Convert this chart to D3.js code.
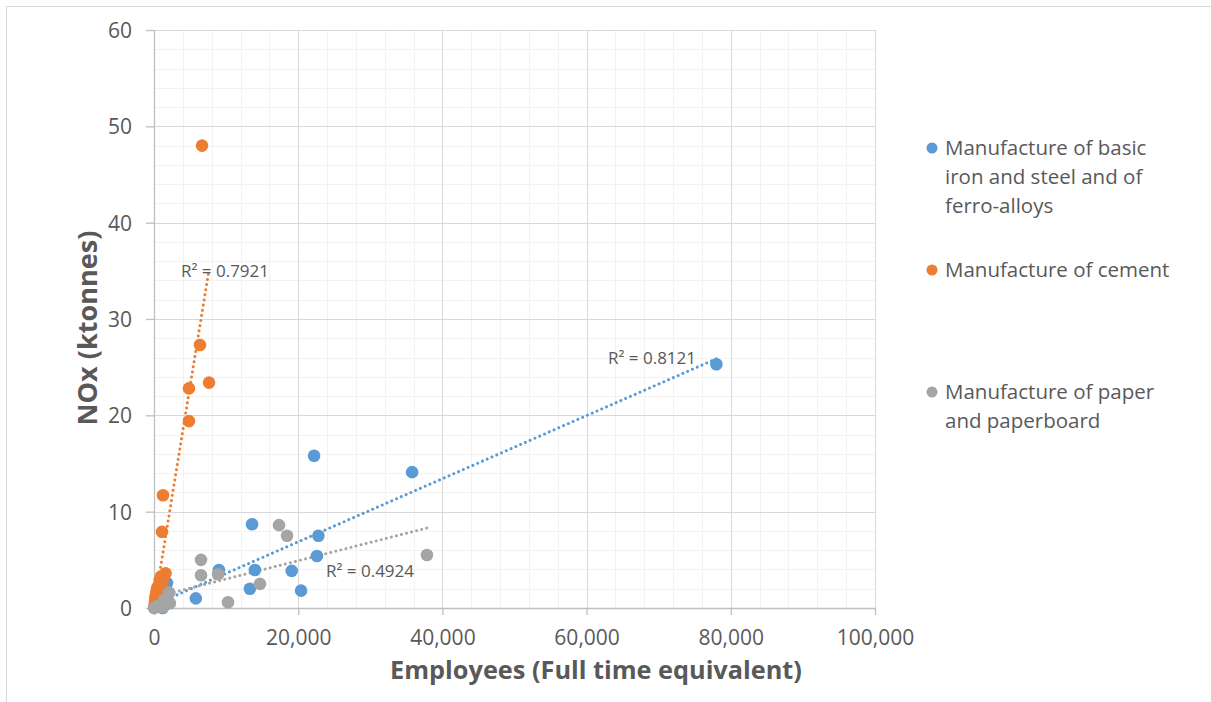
<!DOCTYPE html>
<html>
<head>
<meta charset="utf-8">
<script src="https://cdn.jsdelivr.net/npm/d3@7"></script>
<style>
  html, body { margin: 0; padding: 0; background: #fff; }
  svg { display: block; font-family: "Open Sans", Lato, sans-serif; }
</style>
</head>
<body>
<svg id="chart" width="1211" height="702"></svg>
<script>
// Employees (FTE) and NOx emissions (ktonnes) per installation group
const steelEmployees = [78000, 35800, 22200, 13600, 22800, 22600, 19100, 9000, 14000, 13300, 20400, 5800, 1800, 2000, 1500, 1200];
const steelNOx       = [25.3, 14.1, 15.8, 8.7, 7.5, 5.4, 3.85, 3.95, 3.95, 2.0, 1.8, 1.0, 2.6, 1.6, 0.3, 0.0];

const cementEmployees = [6660, 6380, 7630, 4850, 4850, 1250, 1110, 1600, 1000, 800, 1200, 600, 400, 300, 200, 150, 100, 500];
const cementNOx       = [48.0, 27.3, 23.4, 22.8, 19.4, 11.7, 7.9, 3.6, 3.3, 2.9, 2.7, 2.3, 2.0, 1.6, 1.2, 0.8, 0.4, 1.0];

const paperEmployees = [37860, 17340, 18450, 6520, 6520, 8880, 14700, 10260, 0, 500, 1200, 2200, 2100, 1400];
const paperNOx       = [5.5, 8.6, 7.5, 5.0, 3.4, 3.5, 2.5, 0.6, 0.0, 0.2, 0.1, 0.5, 1.6, 0.8];

const seriesNames = [
  ["Manufacture of basic", "iron and steel and of", "ferro-alloys"],
  ["Manufacture of cement"],
  ["Manufacture of paper", "and paperboard"]
];
const seriesColors = ["#5b9bd5", "#ed7d31", "#a5a5a5"];
const rSquaredLabels = ["R² = 0.8121", "R² = 0.7921", "R² = 0.4924"];

const xTicks = [0, 20000, 40000, 60000, 80000, 100000];
const yTicks = [0, 10, 20, 30, 40, 50, 60];

const xTitle = "Employees (Full time equivalent)";
const yTitle = "NOx (ktonnes)";

const series = [
  { x: steelEmployees, y: steelNOx },
  { x: cementEmployees, y: cementNOx },
  { x: paperEmployees, y: paperNOx }
].map((s, i) => ({
  points: s.x.map((v, j) => ({ x: v, y: s.y[j] })),
  color: seriesColors[i],
  name: seriesNames[i],
  r2: rSquaredLabels[i]
}));

// Least-squares linear fit, drawn across the series' x range
function linearFit(pts) {
  const mx = d3.mean(pts, p => p.x), my = d3.mean(pts, p => p.y);
  let sxy = 0, sxx = 0;
  pts.forEach(p => { sxy += (p.x - mx) * (p.y - my); sxx += (p.x - mx) ** 2; });
  const slope = sxy / sxx;
  const intercept = my - slope * mx;
  const [x0, x1] = d3.extent(pts, p => p.x);
  return [{ x: x0, y: intercept + slope * x0 }, { x: x1, y: intercept + slope * x1 }];
}

const svg = d3.select("#chart");
const plot = { left: 154, right: 875, top: 30, bottom: 608 };

const x = d3.scaleLinear().domain([0, 100000]).range([plot.left, plot.right]);
const y = d3.scaleLinear().domain([0, 60]).range([plot.bottom, plot.top]);

// chart frame
svg.append("rect")
  .attr("x", 6.5).attr("y", 6.5)
  .attr("width", 1300).attr("height", 800)
  .attr("fill", "none").attr("stroke", "#d9d9d9");

// minor gridlines
const g = svg.append("g");
g.selectAll(".xminor").data(d3.range(4000, 100001, 4000)).join("line")
  .attr("x1", d => Math.round(x(d)) + 0.5).attr("x2", d => Math.round(x(d)) + 0.5)
  .attr("y1", plot.top).attr("y2", plot.bottom)
  .attr("stroke", "#f2f2f2");
g.selectAll(".yminor").data(d3.range(2, 61, 2)).join("line")
  .attr("y1", d => Math.round(y(d)) + 0.5).attr("y2", d => Math.round(y(d)) + 0.5)
  .attr("x1", plot.left).attr("x2", plot.right)
  .attr("stroke", "#f2f2f2");

// major gridlines
g.selectAll(".xmajor").data(xTicks.slice(1)).join("line")
  .attr("x1", d => Math.round(x(d)) + 0.5).attr("x2", d => Math.round(x(d)) + 0.5)
  .attr("y1", plot.top).attr("y2", plot.bottom)
  .attr("stroke", "#d9d9d9");
g.selectAll(".ymajor").data(yTicks.slice(1)).join("line")
  .attr("y1", d => Math.round(y(d)) + 0.5).attr("y2", d => Math.round(y(d)) + 0.5)
  .attr("x1", plot.left).attr("x2", plot.right)
  .attr("stroke", "#d9d9d9");

// axes
const xAxis = d3.axisBottom(x).tickValues(xTicks).tickFormat(d3.format(",")).tickSizeInner(7).tickSizeOuter(0).tickPadding(15);
const yAxis = d3.axisLeft(y).tickValues(yTicks).tickSizeInner(8).tickSizeOuter(0).tickPadding(14);

const gx = svg.append("g").attr("transform", `translate(0,${plot.bottom})`).call(xAxis);
const gy = svg.append("g").attr("transform", `translate(${plot.left},0)`).call(yAxis);
[gx, gy].forEach(a => {
  a.selectAll("path, line").attr("stroke", "#bfbfbf").attr("stroke-width", 1.3);
  a.selectAll("text").attr("fill", "#595959").style("font-size", "21px").style("font-family", "'Open Sans', sans-serif");
});
gy.selectAll("text").attr("dy", "0.35em");

// trendlines
series.forEach(s => {
  const ends = linearFit(s.points);
  svg.append("line")
    .attr("x1", x(ends[0].x)).attr("y1", y(ends[0].y))
    .attr("x2", x(ends[1].x)).attr("y2", y(ends[1].y))
    .attr("stroke", s.color)
    .attr("stroke-width", 3)
    .attr("stroke-linecap", "round")
    .attr("stroke-dasharray", "0.01 5.2");
});

// markers
series.forEach(s => {
  svg.append("g").selectAll("circle").data(s.points).join("circle")
    .attr("cx", d => x(d.x)).attr("cy", d => y(d.y))
    .attr("r", 6.3)
    .attr("fill", s.color);
});

// R² labels
const r2Pos = [[652, 358], [225, 271], [370, 571]];
series.forEach((s, i) => {
  svg.append("text")
    .attr("x", r2Pos[i][0]).attr("y", r2Pos[i][1])
    .attr("dy", "0.35em")
    .attr("text-anchor", "middle")
    .attr("fill", "#595959")
    .style("font-size", "17px")
    .text(s.r2);
});

// axis titles, sized to their span
function fitTitle(sel, width) {
  const w = sel.node().getComputedTextLength();
  sel.style("font-size", (24 * width / w).toFixed(2) + "px");
}
const xt = svg.append("text")
  .attr("x", 596).attr("y", 670)
  .attr("dy", "0.35em")
  .attr("text-anchor", "middle")
  .attr("fill", "#595959")
  .style("font-size", "24px").style("font-weight", "bold")
  .text(xTitle);
fitTitle(xt, 412);

const yt = svg.append("text")
  .attr("transform", "translate(88,328) rotate(-90)")
  .attr("dy", "0.35em")
  .attr("text-anchor", "middle")
  .attr("fill", "#595959")
  .style("font-size", "24px").style("font-weight", "bold")
  .text(yTitle);
fitTitle(yt, 195);

// legend
const legendTop = [148, 270, 392];
const legend = svg.append("g");
series.forEach((s, i) => {
  legend.append("circle")
    .attr("cx", 932).attr("cy", legendTop[i])
    .attr("r", 5.5).attr("fill", s.color);
  const t = legend.append("text")
    .attr("x", 945).attr("y", legendTop[i])
    .attr("fill", "#595959")
    .style("font-size", "20.5px");
  s.name.forEach((line, k) => {
    t.append("tspan").attr("x", 945).attr("y", legendTop[i] + k * 29).attr("dy", "0.35em").text(line);
  });
});
</script>
</body>
</html>
